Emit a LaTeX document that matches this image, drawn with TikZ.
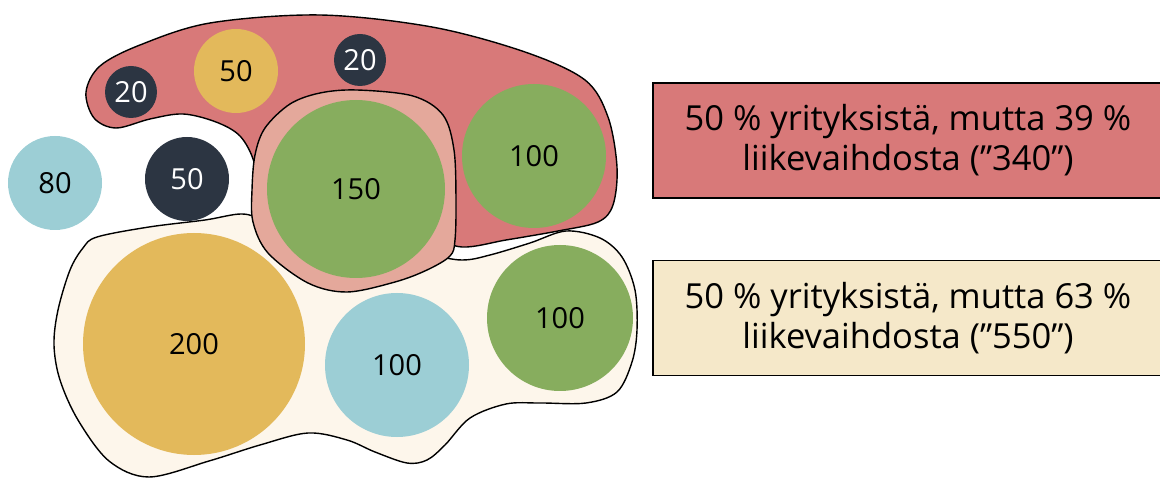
\documentclass[tikz,border=0pt]{standalone}
\usepackage{fontspec}
\setmainfont{Open Sans}
\definecolor{blobred}{HTML}{D87979}
\definecolor{pinkc}{HTML}{E4A89B}
\definecolor{beigebox}{HTML}{F5E8C9}
\definecolor{beigeblob}{HTML}{FDF6EB}
\definecolor{greenc}{HTML}{87AD5E}
\definecolor{yellowc}{HTML}{E3B95B}
\definecolor{bluec}{HTML}{9CCED5}
\definecolor{darkc}{HTML}{2C3542}
\begin{document}
\begin{tikzpicture}[x=1pt,y=-1pt,
  blob/.style={draw=black,line width=1.4pt,line join=round},
  circ/.style={circle,draw=none,inner sep=0pt,font=\fontsize{29}{34}\selectfont},
  darkcirc/.style={circ,fill=darkc,text=white},
  infobox/.style={draw=black,line width=1.4pt,minimum width=510pt,minimum height=115pt,
     inner sep=0pt,align=center,font=\fontsize{34.5}{40}\selectfont}]
\useasboundingbox (0,0) rectangle (1160,478);
% beige blob
\draw[blob,fill=beigeblob] plot[smooth cycle,tension=0.55] coordinates {
 (97,237) (149,227) (205,220) (242,214) (264,222) (300,250) (420,255) (462,260) (490,255)
 (530,243) (566,231) (600,238) (622,257) (635,290) (637,330) (632,362) (617,392)
 (586,403) (540,403) (506,404) (470,418) (445,445) (427,460) (407,463) (375,452)
 (347,440) (308,433) (260,445) (209,461) (149,477) (109,461) (78,420) (60,380)
 (54,345) (58,310) (70,270) (83,248)};
% red blob
\draw[blob,fill=blobred] plot[smooth cycle,tension=0.55] coordinates {
 (86,92) (100,66) (140,45) (210,23) (320,15) (432,27) (525,52) (585,80) (608,117)
 (617,167) (613,205) (598,222) (558,231) (506,240) (462,247) (420,236) (320,240)
 (270,222) (257,195) (254,162) (240,136) (216,122) (183,114) (150,119) (116,128) (94,118)};
% overlap
\draw[blob,fill=pinkc] plot[smooth cycle,tension=0.55] coordinates {
 (357,90) (413,96) (443,115) (454,150) (456,200) (455,240) (450,256) (427,270)
 (395,282) (347,292) (308,283) (268,253) (253,222) (252,190) (255,155) (265,128)
 (290,104) (320,93)};
% circles
\node[circ,fill=bluec,minimum size=94pt] (c80) at (55,183) {80};
\node[darkcirc,minimum size=84pt] (c50d) at (187,179) {50};
\node[darkcirc,minimum size=52pt] (c20a) at (131,92) {20};
\node[circ,fill=yellowc,minimum size=84pt] (c50y) at (236,71) {50};
\node[darkcirc,minimum size=52pt] (c20b) at (360,60) {20};
\node[circ,fill=greenc,minimum size=178pt] (c150) at (356,189) {150};
\node[circ,fill=greenc,minimum size=144pt] (c100a) at (534,156) {100};
\node[circ,fill=yellowc,minimum size=222pt] (c200) at (194,344) {200};
\node[circ,fill=bluec,minimum size=144pt] (c100b) at (397,365) {100};
\node[circ,fill=greenc,minimum size=146pt] (c100c) at (560,318) {100};
% boxes
\node[infobox,fill=blobred] (box1) at (908,140.5) {50 \% yrityksistä, mutta 39 \%\\liikevaihdosta (”340”)};
\node[infobox,fill=beigebox] (box2) at (908,318) {50 \% yrityksistä, mutta 63 \%\\liikevaihdosta (”550”)};
\end{tikzpicture}
\end{document}
